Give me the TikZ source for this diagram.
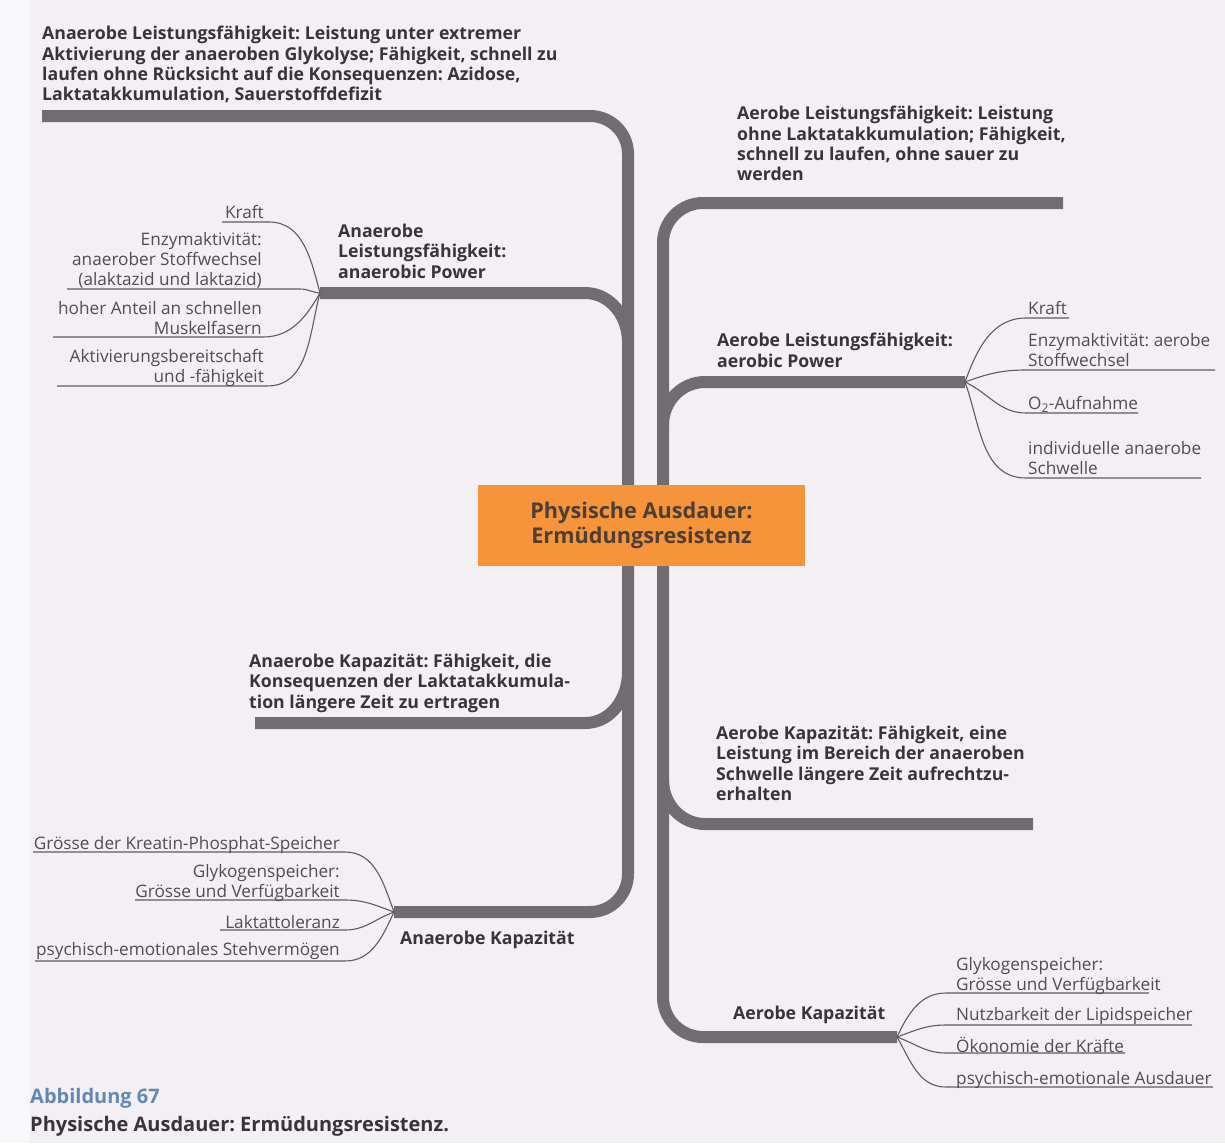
\documentclass[tikz,border=0pt]{standalone}
\usepackage{fontspec}
\setmainfont{Open Sans}
\frenchspacing
\definecolor{branchgray}{RGB}{112,108,114}
\definecolor{twiggray}{RGB}{95,92,97}
\definecolor{boldtxt}{RGB}{55,53,57}
\definecolor{regtxt}{RGB}{80,78,82}
\definecolor{boxorange}{RGB}{245,148,58}
\definecolor{boxtxt}{RGB}{78,62,52}
\definecolor{capblue}{RGB}{98,136,180}
\definecolor{bgpage}{RGB}{248,247,249}
\definecolor{bgpanel}{RGB}{242,240,244}
\begin{document}
\begin{tikzpicture}[x=1pt,y=-1pt,
  trunk/.style={draw=branchgray,line width=12pt},
  twig/.style={draw=twiggray,line width=1.1pt},
  boldlbl/.style={font=\fontsize{17.7}{20.3}\selectfont\bfseries,text=boldtxt,align=left,inner sep=0pt,anchor=north west},
  lblL/.style={font=\fontsize{17.2}{20}\selectfont,text=regtxt,align=right,inner sep=0pt,anchor=north east},
  lblR/.style={font=\fontsize{17.2}{20}\selectfont,text=regtxt,align=left,inner sep=0pt,anchor=north west},
  centerbox/.style={fill=boxorange,text=boxtxt,font=\fontsize{21.7}{25}\selectfont\bfseries,align=center,minimum width=327pt,minimum height=81pt,inner sep=0pt},
  caplbl/.style={font=\fontsize{20}{22}\selectfont\bfseries,text=boldtxt,align=left,inner sep=0pt,anchor=north west}
]
\useasboundingbox (0,0) rectangle (1225,1143);
\fill[bgpage] (0,0) rectangle (1225,1143);
\fill[bgpanel] (30,0) rectangle (1225,1143);

% coordinates
\coordinate (TL) at (42,116);
\coordinate (LTc) at (628,116);
\coordinate (LBc) at (628,912);
\coordinate (LKfan) at (394,912);
\coordinate (LPfan) at (320,293);
\coordinate (LPa) at (585,293);
\coordinate (LPm) at (628,342);
\coordinate (LE) at (255,723);
\coordinate (LEa) at (585,723);
\coordinate (LEm) at (628,672);
\coordinate (RT) at (1063,203);
\coordinate (RTc) at (663,203);
\coordinate (RBc) at (663,1037);
\coordinate (RKfan) at (897,1037);
\coordinate (RPfan) at (965,382);
\coordinate (RPa) at (705,382);
\coordinate (RPm) at (663,425);
\coordinate (RE) at (1033,824);
\coordinate (REa) at (705,824);
\coordinate (REm) at (663,780);

% main trunks
\draw[trunk,rounded corners=38pt] (TL) -- (LTc) -- (LBc) -- (LKfan);
\draw[trunk,rounded corners=40pt] (RT) -- (RTc) -- (RBc) -- (RKfan);
% branches
\draw[trunk] (LPfan) -- (LPa) to[out=0,in=90] (LPm);
\draw[trunk] (LE) -- (LEa) to[out=0,in=-90] (LEm);
\draw[trunk] (RPfan) -- (RPa) to[out=180,in=90] (RPm);
\draw[trunk] (RE) -- (REa) to[out=180,in=-90] (REm);

% center box
\node[centerbox] (center) at (641.5,525.5) {Physische Ausdauer:\\Ermüdungsresistenz};

% bold labels
\node[boldlbl] (t1) at (42,26) {Anaerobe Leistungsfähigkeit: Leistung unter extremer\\Aktivierung der anaeroben Glykolyse; Fähigkeit, schnell zu\\laufen ohne Rücksicht auf die Konsequenzen: Azidose,\\Laktatakkumulation, Sauerstoffdefizit};
\node[boldlbl] (t2) at (338,224) {Anaerobe\\Leistungsfähigkeit:\\anaerobic Power};
\node[boldlbl] (t3) at (737,106) {Aerobe Leistungsfähigkeit: Leistung\\ohne Laktatakkumulation; Fähigkeit,\\schnell zu laufen, ohne sauer zu\\werden};
\node[boldlbl] (t4) at (717,333) {Aerobe Leistungsfähigkeit:\\aerobic Power};
\node[boldlbl] (t5) at (249,654) {Anaerobe Kapazität: Fähigkeit, die\\Konsequenzen der Laktatakkumula-\\tion längere Zeit zu ertragen};
\node[boldlbl] (t6) at (716,726) {Aerobe Kapazität: Fähigkeit, eine\\Leistung im Bereich der anaeroben\\Schwelle längere Zeit aufrechtzu-\\erhalten};
\node[boldlbl] (t7) at (400,931) {Anaerobe Kapazität};
\node[boldlbl] (t8) at (733,1006) {Aerobe Kapazität};

% upper left fan
\coordinate (a1s) at (222,222); \coordinate (a1e) at (269,222);
\coordinate (a2s) at (67,289);  \coordinate (a2e) at (300,289);
\coordinate (a3s) at (53,337);  \coordinate (a3e) at (263,337);
\coordinate (a4s) at (57,386);  \coordinate (a4e) at (267,386);
\draw[twig] (a1s) -- (a1e) to[out=0,in=105] (LPfan);
\draw[twig] (a2s) -- (a2e) to[out=0,in=175] (LPfan);
\draw[twig] (a3s) -- (a3e) to[out=0,in=240] (LPfan);
\draw[twig] (a4s) -- (a4e) to[out=0,in=255] (LPfan);
\node[lblL] (a1) at (264,205) {Kraft};
\node[lblL] (a2) at (262,232) {Enzymaktivität:\\anaerober Stoffwechsel\\(alaktazid und laktazid)};
\node[lblL] (a3) at (262,301) {hoher Anteil an schnellen\\Muskelfasern};
\node[lblL] (a4) at (264,349) {Aktivierungsbereitschaft\\und -fähigkeit};

% upper right fan
\coordinate (b1s) at (1026,318); \coordinate (b1e) at (1069,318);
\coordinate (b2s) at (1026,370); \coordinate (b2e) at (1215,370);
\coordinate (b3s) at (1026,413); \coordinate (b3e) at (1138,413);
\coordinate (b4s) at (1026,478); \coordinate (b4e) at (1201,478);
\draw[twig] (RPfan) to[out=70,in=180] (b1s) -- (b1e);
\draw[twig] (RPfan) to[out=20,in=180] (b2s) -- (b2e);
\draw[twig] (RPfan) to[out=-25,in=180] (b3s) -- (b3e);
\draw[twig] (RPfan) to[out=-70,in=180] (b4s) -- (b4e);
\node[lblR] (b1) at (1028,301) {Kraft};
\node[lblR] (b2) at (1028,333) {Enzymaktivität: aerobe\\Stoffwechsel};
\node[lblR] (b3) at (1028,396) {O\textsubscript{2}-Aufnahme};
\node[lblR] (b4) at (1028,441) {individuelle anaerobe\\Schwelle};

% lower left fan
\coordinate (c1s) at (33,852);  \coordinate (c1e) at (345,852);
\coordinate (c2s) at (135,900); \coordinate (c2e) at (345,900);
\coordinate (c3s) at (220,930); \coordinate (c3e) at (345,930);
\coordinate (c4s) at (35,961);  \coordinate (c4e) at (345,961);
\draw[twig] (c1s) -- (c1e) to[out=0,in=110] (LKfan);
\draw[twig] (c2s) -- (c2e) to[out=0,in=160] (LKfan);
\draw[twig] (c3s) -- (c3e) to[out=0,in=200] (LKfan);
\draw[twig] (c4s) -- (c4e) to[out=0,in=245] (LKfan);
\node[lblL] (c1) at (340,836) {Grösse der Kreatin-Phosphat-Speicher};
\node[lblL] (c2) at (340,864) {Glykogenspeicher:\\Grösse und Verfügbarkeit};
\node[lblL] (c3) at (340,915) {Laktattoleranz};
\node[lblL] (c4) at (340,942) {psychisch-emotionales Stehvermögen};

% lower right fan
\coordinate (d1s) at (946,993);  \coordinate (d1e) at (1149,993);
\coordinate (d2s) at (946,1025); \coordinate (d2e) at (1192,1025);
\coordinate (d3s) at (946,1053); \coordinate (d3e) at (1125,1053);
\coordinate (d4s) at (946,1087); \coordinate (d4e) at (1213,1087);
\draw[twig] (RKfan) to[out=65,in=180] (d1s) -- (d1e);
\draw[twig] (RKfan) to[out=20,in=180] (d2s) -- (d2e);
\draw[twig] (RKfan) to[out=-20,in=180] (d3s) -- (d3e);
\draw[twig] (RKfan) to[out=-60,in=180] (d4s) -- (d4e);
\node[lblR] (d1) at (956,957) {Glykogenspeicher:\\Grösse und Verfügbarkeit};
\node[lblR] (d2) at (956,1007) {Nutzbarkeit der Lipidspeicher};
\node[lblR] (d3) at (956,1037) {Ökonomie der Kräfte};
\node[lblR] (d4) at (956,1071) {psychisch-emotionale Ausdauer};

% caption
\node[caplbl,text=capblue] (cap1) at (30,1088) {Abbildung 67};
\node[caplbl] (cap2) at (30,1116) {Physische Ausdauer: Ermüdungsresistenz.};
\end{tikzpicture}
\end{document}
